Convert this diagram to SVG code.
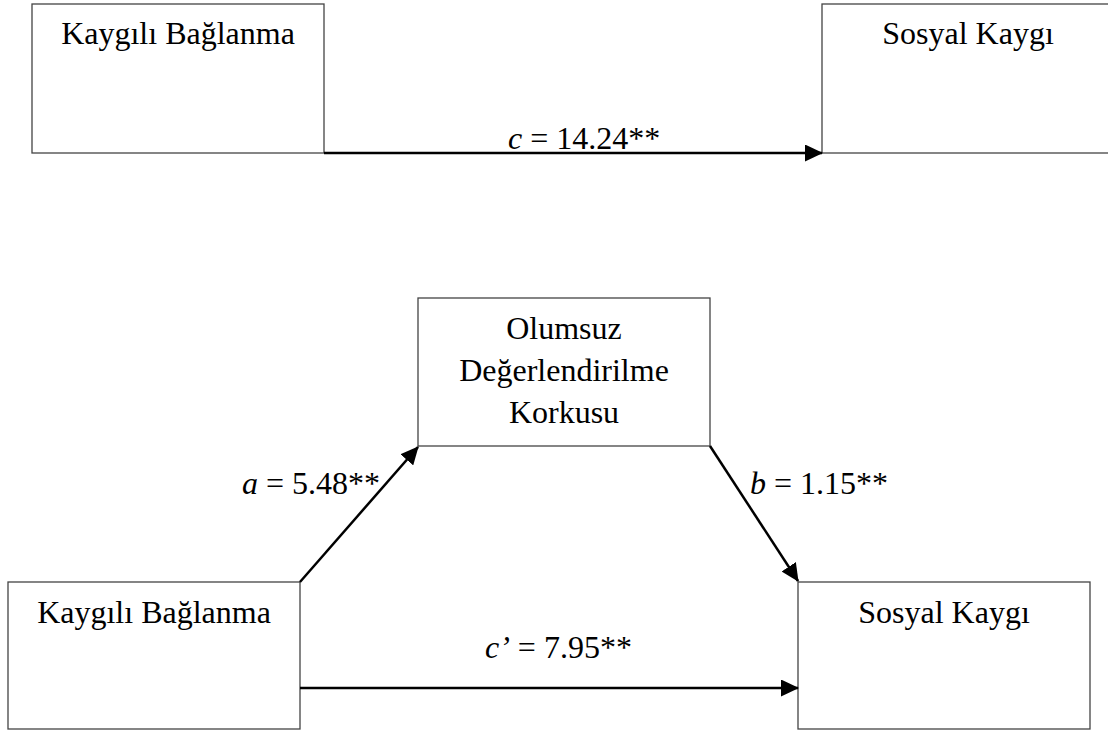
<svg xmlns="http://www.w3.org/2000/svg" width="1108" height="731" viewBox="0 0 1108 731">
<style>
.box{fill:#fff;stroke:#444;stroke-width:1.3}
.t{font-family:'Liberation Serif','Times New Roman',serif;font-size:32px;fill:#000;text-anchor:middle}
.lbl{font-family:'Liberation Serif','Times New Roman',serif;font-size:32px;fill:#000}
.conn{stroke:#000;stroke-width:2.5;fill:none;marker-end:url(#ah)}
</style>
<defs>
<marker id="ah" markerUnits="userSpaceOnUse" markerWidth="18" markerHeight="17" viewBox="0 0 18 17" refX="17" refY="8.5" orient="auto">
<path d="M0,0 L18,8.5 L0,17 Z" fill="#000"/>
</marker>
</defs>
<rect width="1108" height="731" fill="#fff"/>
<g id="top-x">
<rect class="box" x="32" y="4" width="292" height="149"/>
<text class="t" x="178" y="44">Kaygılı Bağlanma</text>
</g>
<g id="top-y">
<rect class="box" x="822" y="4" width="300" height="149"/>
<text class="t" x="968" y="44">Sosyal Kaygı</text>
</g>
<g id="med">
<rect class="box" x="418" y="298" width="292" height="148"/>
<text class="t" x="564" y="339">Olumsuz</text>
<text class="t" x="564" y="381">Değerlendirilme</text>
<text class="t" x="564" y="423">Korkusu</text>
</g>
<g id="bot-x">
<rect class="box" x="8" y="582" width="292" height="147"/>
<text class="t" x="154" y="623">Kaygılı Bağlanma</text>
</g>
<g id="bot-y">
<rect class="box" x="798" y="582" width="292" height="147"/>
<text class="t" x="944" y="623">Sosyal Kaygı</text>
</g>
<g id="connectors">
<line class="conn" x1="324" y1="153" x2="822" y2="153"/>
<line class="conn" x1="300" y1="582" x2="418" y2="447"/>
<line class="conn" x1="710" y1="446" x2="798" y2="581"/>
<line class="conn" x1="300" y1="688" x2="798" y2="688"/>
</g>
<g id="labels">
<text class="lbl" x="508" y="149"><tspan font-style="italic">c</tspan> = 14.24**</text>
<text class="lbl" x="242" y="494"><tspan font-style="italic">a</tspan> = 5.48**</text>
<text class="lbl" x="750" y="494"><tspan font-style="italic">b</tspan> = 1.15**</text>
<text class="lbl" x="485" y="658"><tspan font-style="italic">c’</tspan> = 7.95**</text>
</g>
</svg>
